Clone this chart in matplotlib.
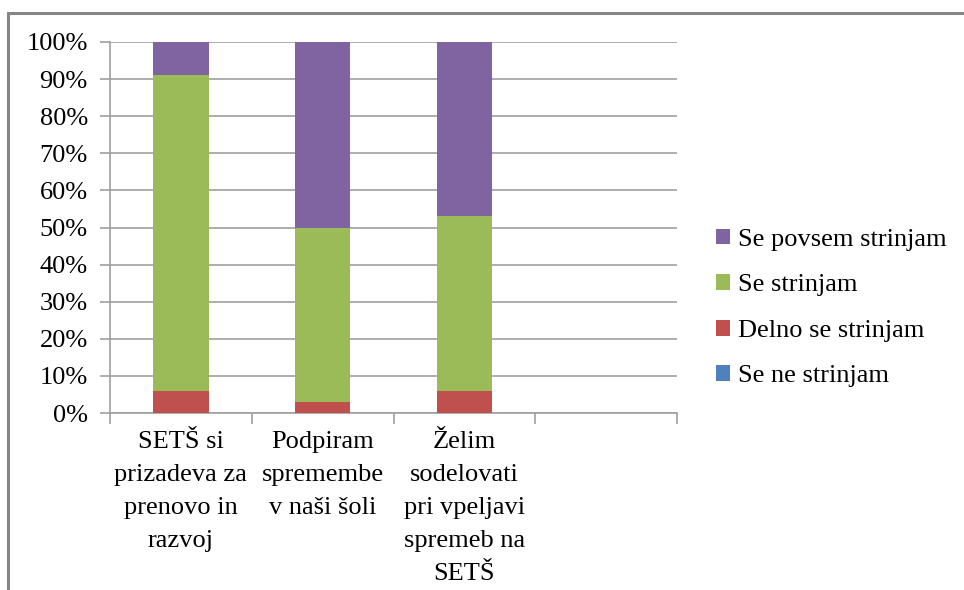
import matplotlib.pyplot as plt
import matplotlib.patches as patches
import numpy as np

plt.rcParams['font.family'] = ['Liberation Serif', 'DejaVu Serif']

# Survey answers, share of respondents in percent
categories = ['SETŠ si\nprizadeva za\nprenovo in\nrazvoj',
              'Podpiram\nspremembe\nv naši šoli',
              'Želim\nsodelovati\npri vpeljavi\nspremeb na\nSETŠ',
              '']
ne_strinjam = [0, 0, 0]
delno = [6, 3, 6]
strinjam = [85, 47, 47]
povsem = [9, 50, 47]

series = [
    ('Se ne strinjam', ne_strinjam, '#4F81BD'),
    ('Delno se strinjam', delno, '#C0504D'),
    ('Se strinjam', strinjam, '#9BBB59'),
    ('Se povsem strinjam', povsem, '#8064A2'),
]

fig = plt.figure(figsize=(9.64, 5.90), dpi=100)
ax = fig.add_axes([110 / 964, 1 - 413 / 590, (677 - 110) / 964, (413 - 42) / 590])

x = np.arange(len(ne_strinjam))
bottom = np.zeros(len(x))
handles = []
for name, vals, color in series:
    vals = np.array(vals, dtype=float)
    h = ax.bar(x, vals, 0.39, bottom=bottom, color=color, label=name, zorder=3)
    handles.append(h)
    bottom += vals

ax.set_xlim(-0.5, len(categories) - 0.5)
ax.set_ylim(0, 100)
ax.set_yticks(np.arange(0, 101, 10))
ax.set_yticklabels([f'{v}%' for v in range(0, 101, 10)])
ax.yaxis.grid(True, color='#A0A0A0', lw=1.2, zorder=0)

ax.set_xticks(np.arange(len(categories)))
ax.set_xticklabels(categories, linespacing=1.64)
ax.set_xticks(np.arange(len(categories) + 1) - 0.5, minor=True)
ax.tick_params(axis='x', which='major', length=0, pad=13, labelsize=19)
ax.tick_params(axis='x', which='minor', length=8, width=1.2, color='#A0A0A0')
ax.tick_params(axis='y', length=7, width=1.2, color='#A0A0A0', pad=9, labelsize=19)

for side in ['top', 'right']:
    ax.spines[side].set_visible(False)
for side in ['left', 'bottom']:
    ax.spines[side].set_color('#A0A0A0')
    ax.spines[side].set_linewidth(1.2)

leg = fig.legend(handles[::-1], [s[0] for s in series[::-1]],
                 loc='center left', bbox_to_anchor=(692 / 964, 1 - 308 / 590),
                 frameon=False, fontsize=19, handlelength=0.55, handleheight=0.55,
                 handletextpad=0.3, labelspacing=0.88)

# outer chart frame (top and left edges visible)
frame = patches.Rectangle((8 / 964, -0.2), 1.5, 1.2 - 13 / 590,
                          transform=fig.transFigure, fill=False,
                          edgecolor='#868686', lw=2.2)
fig.add_artist(frame)

fig.savefig('out.png', dpi=100)
